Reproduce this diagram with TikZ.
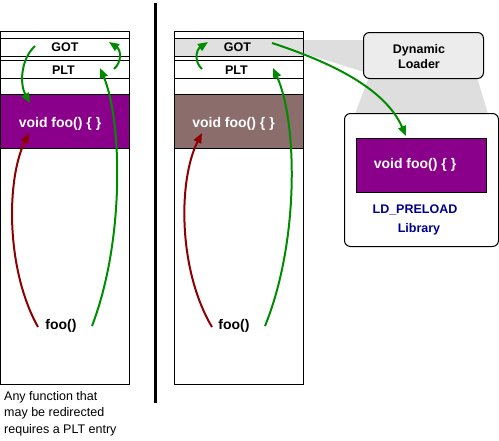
\documentclass[tikz,border=0pt]{standalone}
\usepackage{fontspec}
\setmainfont{Liberation Sans}
\usetikzlibrary{arrows.meta}
\definecolor{fpurple}{RGB}{139,0,139}
\definecolor{fbrown}{RGB}{139,110,108}
\definecolor{agreen}{RGB}{0,140,0}
\definecolor{ared}{RGB}{139,0,0}
\definecolor{lnavy}{RGB}{0,0,139}
\definecolor{gotgrey}{RGB}{224,224,224}
\definecolor{fungrey}{RGB}{222,222,222}
\definecolor{loadgrey}{RGB}{236,236,236}
\tikzset{
  thin line/.style={line width=1pt},
  lbl/.style={font=\fontsize{12.5}{14}\selectfont\bfseries, inner sep=0pt},
  code/.style={font=\fontsize{14}{16}\selectfont\bfseries, inner sep=0pt},
  garrow/.style={draw=agreen, line width=2pt, -{Triangle[length=10pt,width=8pt]}},
  rarrow/.style={draw=ared, line width=2pt, -{Triangle[length=10pt,width=8pt]}},
}
\begin{document}
\begin{tikzpicture}[x=1pt,y=-1pt]
\useasboundingbox (0,0) rectangle (499,440);
% funnels
\fill[fungrey] (303,40) -- (364,40) -- (364,72) -- (303,53) -- cycle;
\fill[fungrey] (369,77) -- (477,77) -- (488,114) -- (355,114) -- cycle;
% left column
\fill[fpurple] (0.5,94) rectangle (129,148);
\draw[thin line] (0.5,31) rectangle (129,384);
\foreach \yy in {38,56.5,60.5,78.5,94,148} \draw[thin line] (0.5,\yy) -- (129,\yy);
% middle column
\fill[gotgrey] (174.5,38) rectangle (303,56.5);
\fill[fbrown] (174.5,94) rectangle (303,148);
\draw[thin line] (174.5,31) rectangle (303,384);
\foreach \yy in {38,56.5,60.5,78.5,94,148} \draw[thin line] (174.5,\yy) -- (303,\yy);
% separator
\draw[line width=3pt] (155,3) -- (155,403);
% loader and library
\node[draw, thin line, fill=loadgrey, rounded corners=6pt, minimum width=120pt, minimum height=46pt, anchor=north west, inner sep=0pt] (loader) at (363,32) {};
\node[lbl, align=center, font=\fontsize{12.5}{15}\selectfont\bfseries] (loadertxt) at (419,56.5) {Dynamic\\Loader};
\node[draw, thin line, fill=white, rounded corners=6pt, minimum width=154pt, minimum height=133pt, anchor=north west, inner sep=0pt] (library) at (344,113) {};
\node[draw, thin line, fill=fpurple, minimum width=130pt, minimum height=54pt, anchor=north west, inner sep=0pt] (libfoo) at (356,138) {};
\node[code, text=white] (libfootxt) at (415,165) {void foo() \{ \}};
\node[lbl, text=lnavy] (ldp) at (415,210) {LD\_PRELOAD};
\node[lbl, text=lnavy] (libtxt) at (419,229) {Library};
% left labels
\node[lbl] (gotL) at (65,47) {GOT};
\node[lbl] (pltL) at (63.5,70) {PLT};
\node[code, text=white] (fooL) at (60,124) {void foo() \{ \}};
\node[code] (callL) at (61,326) {foo()};
% middle labels
\node[lbl] (gotM) at (237.5,47) {GOT};
\node[lbl] (pltM) at (236.5,70) {PLT};
\node[code, text=white] (fooM) at (233.5,124) {void foo() \{ \}};
\node[code] (callM) at (234,326) {foo()};
% note
\node[anchor=north west, align=left, inner sep=0pt, font=\fontsize{12.5}{16.5}\selectfont] (note) at (4,391) {Any function that\\may be redirected\\requires a PLT entry};
% arrow end points
\coordinate (rLs) at (38,327); \coordinate (rLe) at (29,133);
\coordinate (gLs) at (92,326); \coordinate (gLe) at (100,68);
\coordinate (g2Ls) at (35,46); \coordinate (g2Le) at (30,103);
\coordinate (g3Ls) at (114,69); \coordinate (g3Le) at (109,42);
\coordinate (rMs) at (212,327); \coordinate (rMe) at (202,133);
\coordinate (gMs) at (265,326); \coordinate (gMe) at (273,68);
\coordinate (g3Ms) at (202,69); \coordinate (g3Me) at (208,42);
\coordinate (g4Ms) at (272,43); \coordinate (g4Me) at (406,136);
% arrows
\draw[rarrow] (rLs) .. controls (6,270) and (6,180) .. (rLe);
\draw[garrow] (gLs) .. controls (125,240) and (122,120) .. (gLe);
\draw[garrow] (g2Ls) .. controls (20,60) and (20,85) .. (g2Le);
\draw[garrow] (g3Ls) .. controls (122,62) and (121,50) .. (g3Le);
\draw[rarrow] (rMs) .. controls (178,270) and (178,180) .. (rMe);
\draw[garrow] (gMs) .. controls (300,240) and (297,120) .. (gMe);
\draw[garrow] (g3Ms) .. controls (194,62) and (196,50) .. (g3Me);
\draw[garrow] (g4Ms) .. controls (330,62) and (385,88) .. (g4Me);
\end{tikzpicture}
\end{document}
